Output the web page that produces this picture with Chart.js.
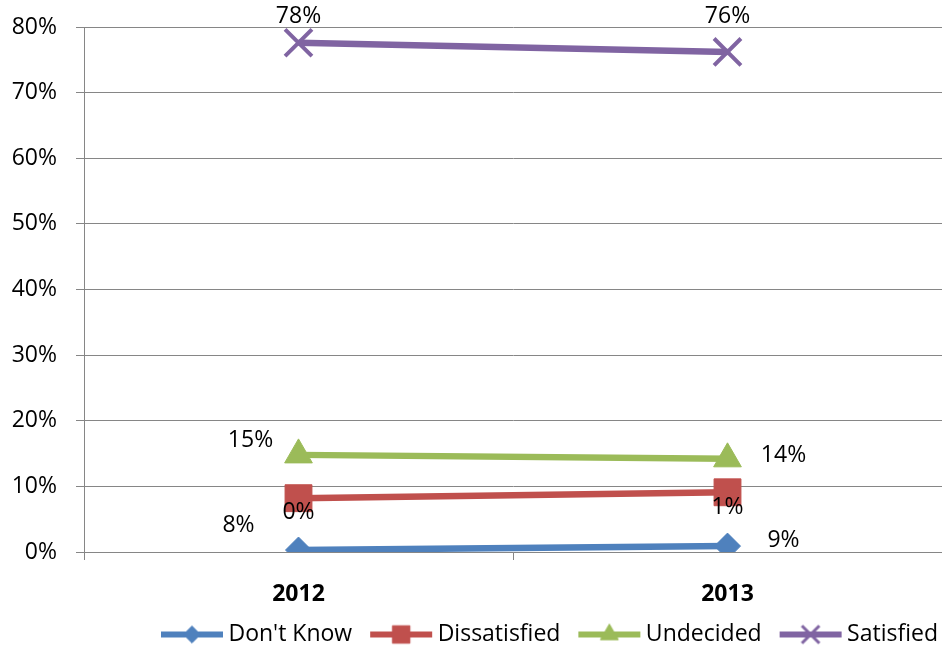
<!DOCTYPE html>
<html>
<head>
<meta charset="utf-8">
<script src="https://cdn.jsdelivr.net/npm/chart.js@4.4.0/dist/chart.umd.min.js"></script>
<style>
  html, body { margin: 0; padding: 0; background: #fff; }
  #chart { display: block; }
</style>
</head>
<body>
<canvas id="chart" width="942" height="646"></canvas>
<script>
// Datos del gráfico
const years = ['2012', '2013'];
const dontKnow = [0.3, 0.9];
const dissatisfied = [8.2, 9.1];
const undecided = [14.8, 14.2];
const satisfied = [77.6, 76.2];
const yTicks = [0, 10, 20, 30, 40, 50, 60, 70, 80];

const FONT = "'Open Sans', 'Liberation Sans', sans-serif";

// Desplazamiento de cada etiqueta respecto a su punto (px)
const labelOffsets = {
  "Don't Know": [[0, -38], [0, -39]],
  'Dissatisfied': [[-60, 27], [56, 48]],
  'Undecided': [[-48, -14], [56, -3]],
  'Satisfied': [[0, -26], [0, -35]]
};

const series = [
  { label: "Don't Know", data: dontKnow, color: '#4F81BD', style: 'rectRot', radius: 13 },
  { label: 'Dissatisfied', data: dissatisfied, color: '#C0504D', style: 'rect', radius: 19 },
  { label: 'Undecided', data: undecided, color: '#9BBB59', style: 'triangle', radius: 16 },
  { label: 'Satisfied', data: satisfied, color: '#8064A2', style: 'crossRot', radius: 19 }
];

/**
 * Icono de la leyenda: línea + marcador (con margen transparente a la izquierda)
 */
function legendIcon(s) {
  const c = document.createElement('canvas');
  c.width = 86;
  c.height = 26;
  const ctx = c.getContext('2d');
  ctx.strokeStyle = s.color;
  ctx.fillStyle = s.color;
  ctx.lineWidth = 6;
  ctx.beginPath();
  ctx.moveTo(22, 13);
  ctx.lineTo(84, 13);
  ctx.stroke();
  ctx.lineWidth = s.style === 'crossRot' ? 3 : 1;
  Chart.helpers.drawPoint(ctx, {
    pointStyle: s.style,
    radius: s.radius * 0.65,
    borderWidth: ctx.lineWidth
  }, 53, 13);
  return c;
}

// Etiquetas de datos
const dataLabels = {
  id: 'dataLabels',
  afterDatasetsDraw(chart) {
    const ctx = chart.ctx;
    ctx.save();
    ctx.font = '23px ' + FONT;
    ctx.fillStyle = '#000';
    ctx.textAlign = 'center';
    ctx.textBaseline = 'middle';
    chart.data.datasets.forEach((ds, i) => {
      const meta = chart.getDatasetMeta(i);
      const offs = labelOffsets[ds.label];
      meta.data.forEach((pt, j) => {
        const v = Math.round(ds.data[j]) + '%';
        ctx.fillText(v, pt.x + offs[j][0], pt.y + offs[j][1]);
      });
    });
    ctx.restore();
  }
};

new Chart(document.getElementById('chart'), {
  type: 'line',
  data: {
    labels: years,
    datasets: series.map(s => ({
      label: s.label,
      data: s.data,
      borderColor: s.color,
      backgroundColor: s.color,
      borderWidth: 6.5,
      pointStyle: s.style,
      pointRadius: s.radius,
      pointBorderWidth: s.style === 'crossRot' ? 4 : 1,
      pointBackgroundColor: s.color,
      pointBorderColor: s.color,
      tension: 0
    }))
  },
  options: {
    responsive: false,
    animation: false,
    layout: { autoPadding: false, padding: { top: 27, right: 0, left: 0, bottom: -10 } },
    plugins: {
      legend: {
        position: 'bottom',
        align: 'end',
        labels: {
          usePointStyle: true,
          pointStyleWidth: 70,
          padding: 4,
          color: '#000',
          font: { family: FONT, size: 23 },
          generateLabels(chart) {
            return series.map((s, i) => ({
              text: s.label,
              pointStyle: legendIcon(s),
              fillStyle: s.color,
              strokeStyle: s.color,
              lineWidth: 0,
              hidden: false,
              datasetIndex: i
            }));
          }
        }
      },
      tooltip: { enabled: false }
    },
    scales: {
      x: {
        offset: true,
        afterFit(scale) { scale.height = 67; },
        grid: {
          offset: true,
          drawOnChartArea: false,
          drawTicks: true,
          tickLength: 8,
          color: '#868686'
        },
        border: { color: '#868686', width: 1 },
        ticks: {
          color: '#000',
          padding: 21,
          font: { family: FONT, size: 23, weight: 'bold' }
        }
      },
      y: {
        min: 0,
        max: 80,
        afterFit(scale) {
          scale.width = 84;
          scale.paddingTop = 0;
          scale.paddingBottom = 0;
        },
        afterBuildTicks(scale) { scale.ticks = yTicks.map(v => ({ value: v })); },
        grid: {
          color: '#868686',
          lineWidth: 1,
          drawTicks: true,
          tickLength: 8
        },
        border: { color: '#868686', width: 1 },
        ticks: {
          color: '#000',
          padding: 19,
          font: { family: FONT, size: 23 },
          callback: v => v + '%'
        }
      }
    }
  },
  plugins: [dataLabels]
});
</script>
</body>
</html>
